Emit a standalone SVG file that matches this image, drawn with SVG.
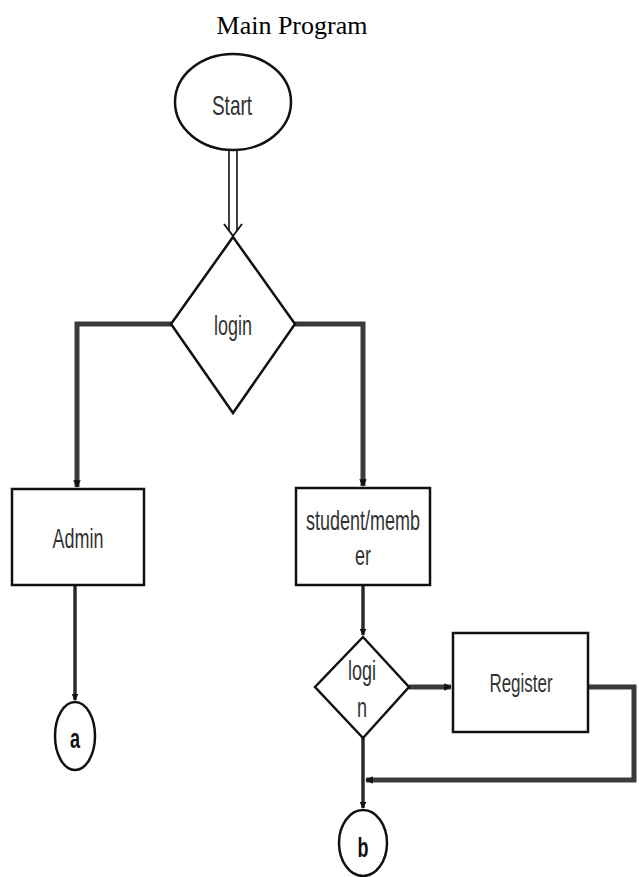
<svg xmlns="http://www.w3.org/2000/svg" width="639" height="877" viewBox="0 0 639 877">
<style>
.shape{fill:#fff;stroke:#111;stroke-width:2.5}
.conn{fill:none;stroke:#3a3a3a;stroke-width:5;stroke-linejoin:miter}
.thin{fill:none;stroke:#2a2a2a;stroke-width:3.5}
.lbl{font-family:"Liberation Sans",Arial,sans-serif;font-size:18px;fill:#333;text-anchor:middle}
.title{font-family:"Liberation Serif","Times New Roman",serif;font-size:26px;fill:#000;text-anchor:middle}
</style>
<defs>
<marker id="ah" viewBox="0 0 10 10" refX="9" refY="5" markerWidth="1.5" markerHeight="1.5" orient="auto" markerUnits="strokeWidth">
<path d="M0,0 L10,5 L0,10 z" fill="#111"/>
</marker>
<marker id="ah2" viewBox="0 0 10 10" refX="9" refY="5" markerWidth="2" markerHeight="2" orient="auto" markerUnits="strokeWidth">
<path d="M0,0 L10,5 L0,10 z" fill="#111"/>
</marker>
</defs>
<text class="title" x="292" y="34">Main Program</text>

<g id="connectors">
<!-- start to login double line -->
<line x1="229" y1="150" x2="229" y2="231" stroke="#111" stroke-width="1.6"/>
<line x1="237" y1="150" x2="237" y2="231" stroke="#111" stroke-width="1.6"/>
<path d="M224,224 L233,236 L242,224" fill="none" stroke="#111" stroke-width="1.8"/>
<!-- login left to admin -->
<path class="conn" d="M171,324 L77,324 L77,487" marker-end="url(#ah)"/>
<!-- login right to student -->
<path class="conn" d="M295,324 L363,324 L363,486" marker-end="url(#ah)"/>
<!-- admin to a -->
<path class="thin" d="M75,586 L75,700" marker-end="url(#ah2)"/>
<!-- student to login2 -->
<path class="thin" d="M363,586 L363,635" marker-end="url(#ah2)"/>
<!-- login2 to register -->
<path class="conn" d="M409,687 L451,687" marker-end="url(#ah)"/>
<!-- register loop back -->
<path class="conn" d="M588,687 L634,687 L634,780 L366,780" marker-end="url(#ah)"/>
<!-- login2 to b -->
<path class="thin" d="M363,738 L363,808" marker-end="url(#ah2)"/>
</g>

<g id="start">
<ellipse class="shape" cx="233" cy="102" rx="58" ry="48"/>
<text class="lbl" style="font-size:19px" transform="translate(232,115) scale(1,1.5)">Start</text>
</g>

<g id="login">
<polygon class="shape" points="233,237 295,324 233,413 171,324"/>
<text class="lbl" transform="translate(233,335) scale(1,1.5)">login</text>
</g>

<g id="admin">
<rect class="shape" x="12" y="489" width="132" height="96"/>
<text class="lbl" transform="translate(78,548) scale(1,1.5)">Admin</text>
</g>

<g id="student">
<rect class="shape" x="296" y="488" width="134" height="97"/>
<text class="lbl" transform="translate(363,530) scale(1,1.5)">student/memb</text>
<text class="lbl" transform="translate(363,565) scale(1,1.5)">er</text>
</g>

<g id="login2">
<polygon class="shape" points="363,637 409,687 363,738 315,687"/>
<text class="lbl" transform="translate(362,680) scale(1,1.5)">logi</text>
<text class="lbl" transform="translate(362,717) scale(1,1.5)">n</text>
</g>

<g id="register">
<rect class="shape" x="453" y="633" width="135" height="99"/>
<text class="lbl" style="font-size:17px" transform="translate(521,692) scale(1,1.5)">Register</text>
</g>

<g id="a">
<ellipse class="shape" cx="75" cy="736" rx="20" ry="34"/>
<text class="lbl" style="font-weight:bold;fill:#111" transform="translate(75,748) scale(1,1.5)">a</text>
</g>

<g id="b">
<ellipse class="shape" cx="363" cy="843" rx="24" ry="33"/>
<text class="lbl" style="font-weight:bold;fill:#111" transform="translate(363,857) scale(1,1.5)">b</text>
</g>
</svg>
